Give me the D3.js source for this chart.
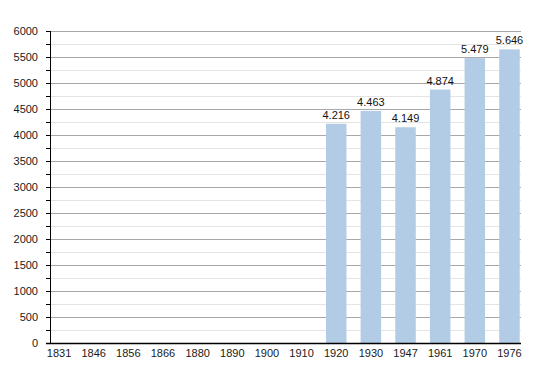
<!DOCTYPE html>
<html>
<head>
<meta charset="utf-8">
<script src="https://cdn.jsdelivr.net/npm/d3@7"></script>
<style>
  body { margin: 0; background: #fff; }
  text { font-family: "Liberation Sans", Arial, sans-serif; }
</style>
</head>
<body>
<div id="chart"></div>
<script>
// years on the x axis
var years = ["1831", "1846", "1856", "1866", "1880", "1890", "1900", "1910",
             "1920", "1930", "1947", "1961", "1970", "1976"];
// population, null where no figure is given
var population = [null, null, null, null, null, null, null, null,
                  4216, 4463, 4149, 4874, 5479, 5646];
var yTicks = [0, 500, 1000, 1500, 2000, 2500, 3000, 3500, 4000, 4500, 5000, 5500, 6000];
var yMinorTicks = [250, 750, 1250, 1750, 2250, 2750, 3250, 3750, 4250, 4750, 5250, 5750];

var width = 550, height = 373;
var plotLeft = 50, plotRight = 521, plotTop = 31, plotBottom = 343;

var fmt = d3.formatLocale({decimal: ",", thousands: ".", grouping: [3], currency: ["", ""]}).format(",d");

var svg = d3.select("#chart").append("svg")
    .attr("width", width)
    .attr("height", height);

var y = d3.scaleLinear()
    .domain([0, 6000])
    .range([plotBottom, plotTop]);

var x = d3.scaleBand()
    .domain(years)
    .range([41.7, 526.8])
    .paddingInner(0.408)
    .paddingOuter(0.204);

// minor grid
svg.append("g").selectAll("line")
    .data(yMinorTicks)
    .enter().append("line")
    .attr("x1", plotLeft).attr("x2", plotRight)
    .attr("y1", function(d) { return y(d) + 0.5; })
    .attr("y2", function(d) { return y(d) + 0.5; })
    .style("stroke", "#e4e4e4");

// major grid
svg.append("g").selectAll("line")
    .data(yTicks.slice(1))
    .enter().append("line")
    .attr("x1", plotLeft).attr("x2", plotRight)
    .attr("y1", function(d) { return y(d) + 0.5; })
    .attr("y2", function(d) { return y(d) + 0.5; })
    .style("stroke", "#a8a8a8");

// bars
var data = years.map(function(yr, i) { return {year: yr, value: population[i]}; })
    .filter(function(d) { return d.value != null; });

svg.selectAll("rect.bar")
    .data(data)
    .enter().append("rect")
    .attr("class", "bar")
    .attr("x", function(d) { return x(d.year); })
    .attr("width", x.bandwidth())
    .attr("y", function(d) { return y(d.value); })
    .attr("height", function(d) { return plotBottom - y(d.value); })
    .style("fill", "#b3cce6");

svg.selectAll("text.val")
    .data(data)
    .enter().append("text")
    .attr("class", "val")
    .attr("x", function(d) { return x(d.year) + x.bandwidth() / 2; })
    .attr("y", function(d) { return y(d.value) - 5; })
    .attr("text-anchor", "middle")
    .style("font-size", "11px")
    .style("fill", "#111")
    .text(function(d) { return fmt(d.value); });

// y axis
var yAxis = d3.axisLeft(y)
    .tickValues(yTicks)
    .tickSize(0)
    .tickPadding(12)
    .tickFormat(d3.format("d"));

var ga = svg.append("g")
    .attr("transform", "translate(" + plotLeft + ",0)")
    .call(yAxis);
ga.select(".domain").remove();
ga.selectAll("text").style("font-size", "11px").style("fill", "#1a1a1a");

// tick marks
svg.append("g").selectAll("line")
    .data(yMinorTicks.concat(yTicks))
    .enter().append("line")
    .attr("x1", plotLeft - 4).attr("x2", plotLeft)
    .attr("y1", function(d) { return y(d) + 0.5; })
    .attr("y2", function(d) { return y(d) + 0.5; })
    .style("stroke", "#000");

svg.append("line")
    .attr("x1", plotLeft + 0.5).attr("x2", plotLeft + 0.5)
    .attr("y1", plotTop).attr("y2", plotBottom + 1)
    .style("stroke", "#000");

// x axis
var xAxis = d3.axisBottom(x).tickSize(0).tickPadding(6);
var gx = svg.append("g")
    .attr("transform", "translate(0," + plotBottom + ")")
    .call(xAxis);
gx.select(".domain").remove();
gx.selectAll("text").style("font-size", "11px").style("fill", "#1a1a1a");

svg.append("line")
    .attr("x1", plotLeft - 4).attr("x2", plotRight)
    .attr("y1", plotBottom + 0.5).attr("y2", plotBottom + 0.5)
    .style("stroke", "#000")
    .style("stroke-width", 1.5);
</script>
</body>
</html>
